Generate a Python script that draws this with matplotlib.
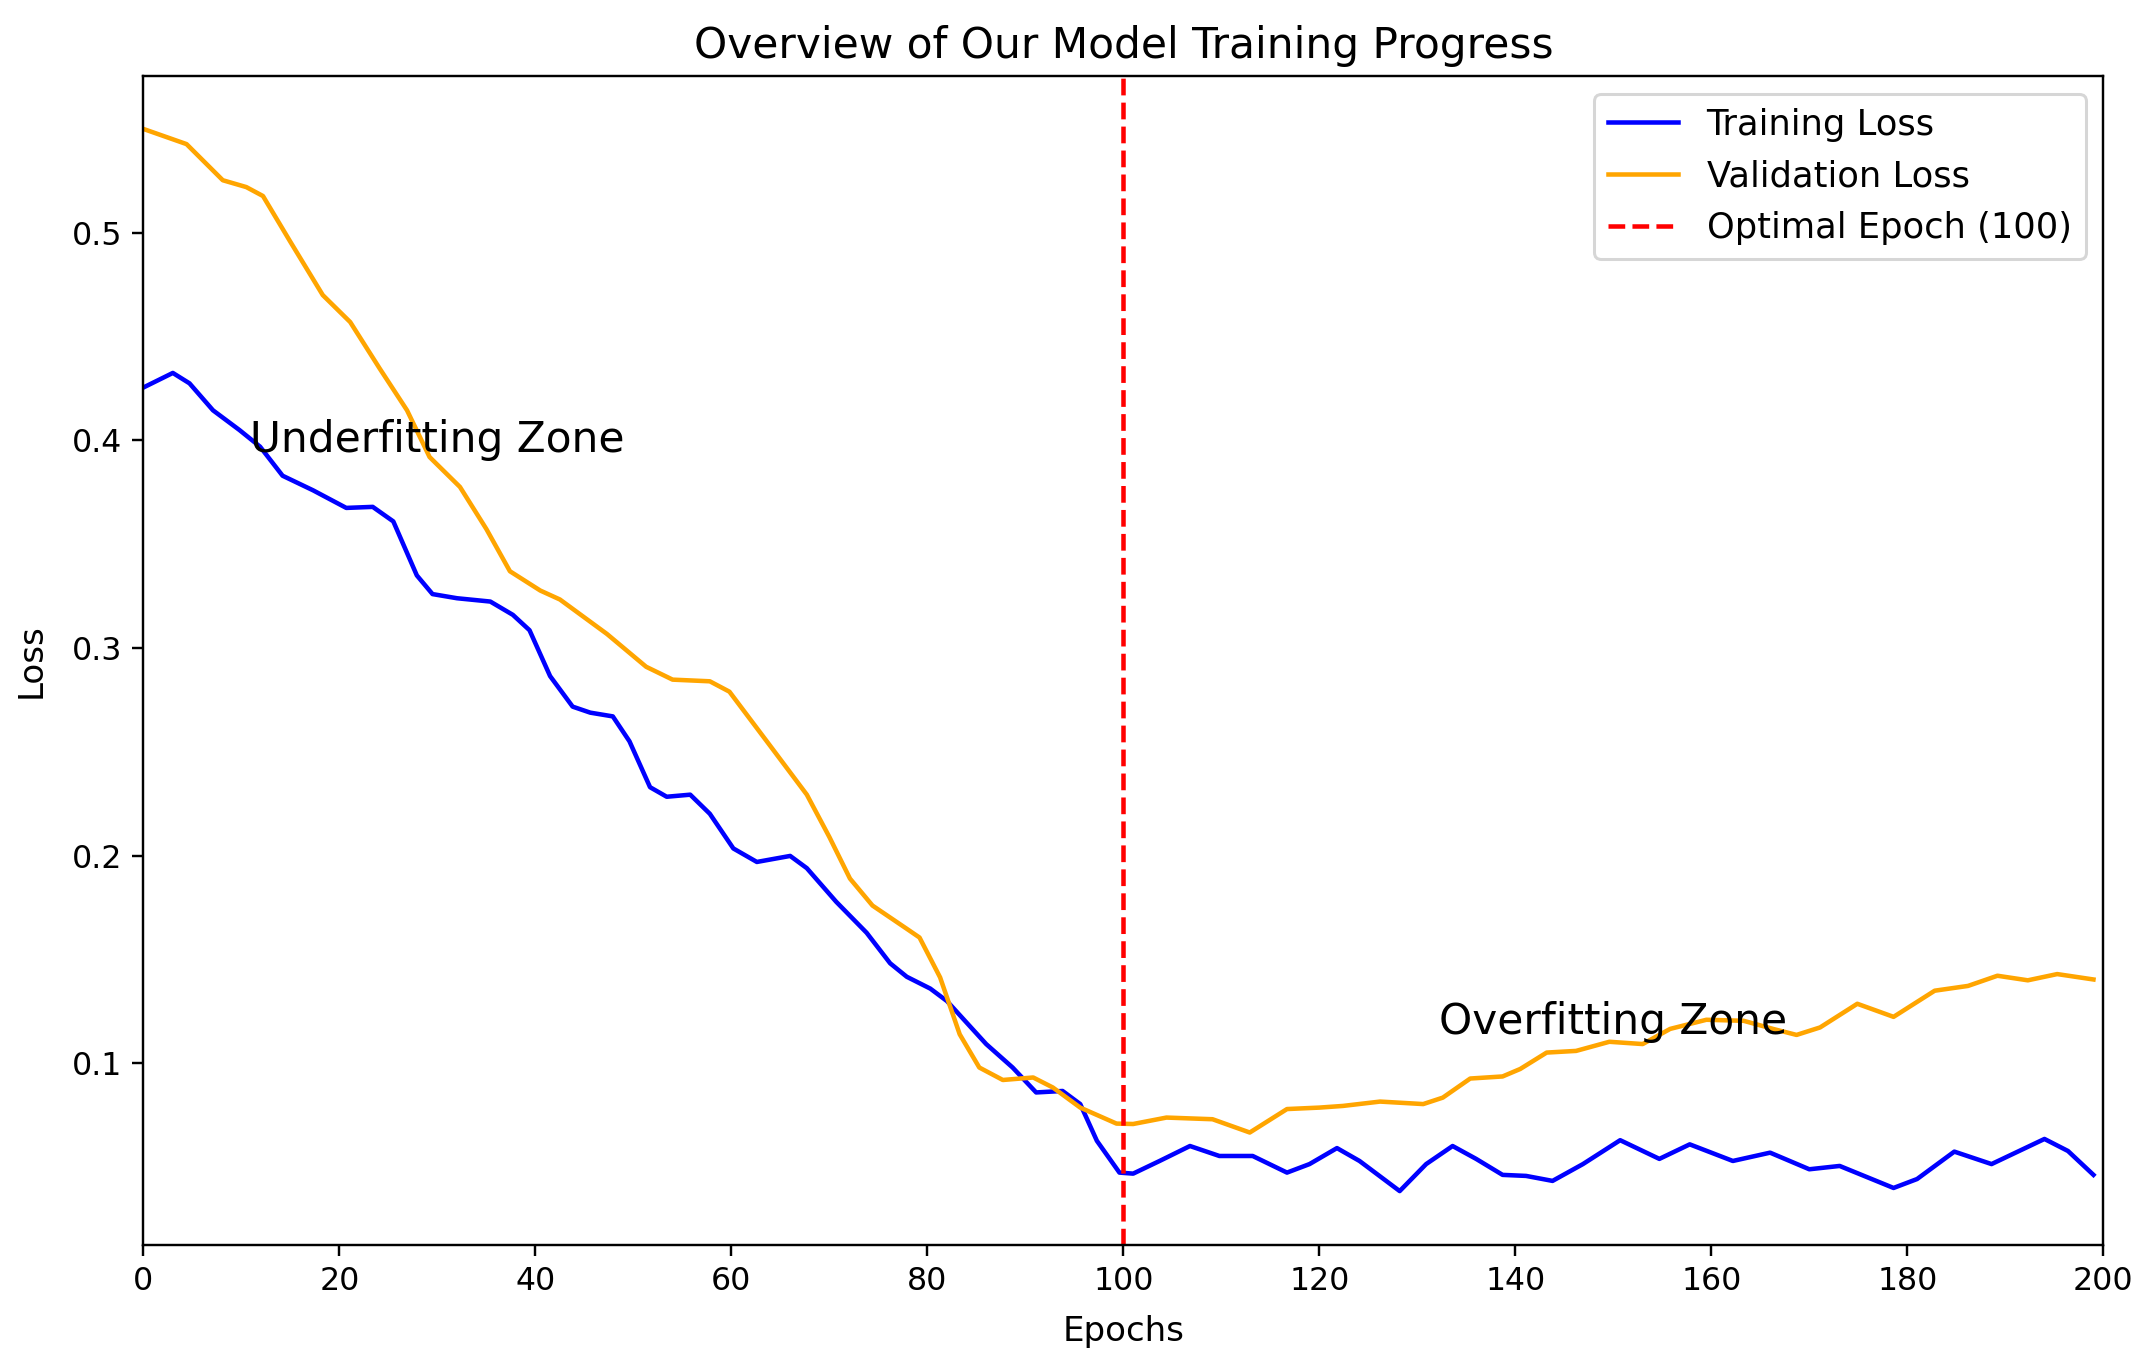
import numpy as np
import matplotlib
matplotlib.use("Agg")
import matplotlib.pyplot as plt

# values
train_epochs = [0, 3, 4.7, 7.1, 9.8, 11.9, 14.2, 17.3, 20.7, 23.4, 25.5, 27.9, 29.5, 32, 35.4,
                37.7, 39.4, 41.5, 43.8, 45.6, 47.9, 49.6, 51.7, 53.4, 55.8, 57.8, 60.2, 62.6,
                66, 67.7, 70.7, 73.8, 76.2, 77.9, 80.3, 82, 86, 88.7, 91.1, 93.8, 95.6, 97.3,
                99.6, 101, 103.7, 106.8, 109.8, 113.2, 116.7, 119, 121.8, 124.1, 128.2, 130.9,
                133.6, 136, 138.7, 141.1, 143.8, 146.9, 150.7, 154.7, 157.8, 162.2, 166, 170,
                173.1, 178.6, 181, 184.8, 188.6, 194, 196.4, 199]
train_loss = [0.4255, 0.4325, 0.4275, 0.4145, 0.405, 0.397, 0.383, 0.376, 0.3675, 0.368, 0.361,
              0.335, 0.326, 0.324, 0.3224, 0.316, 0.3086, 0.2865, 0.2718, 0.2689, 0.2671, 0.2551,
              0.233, 0.2284, 0.2294, 0.2202, 0.2035, 0.197, 0.1999, 0.194, 0.1778, 0.1629, 0.1482,
              0.1417, 0.136, 0.130, 0.1093, 0.098, 0.086, 0.0867, 0.0804, 0.0627, 0.0474, 0.0469,
              0.053, 0.0602, 0.0554, 0.0554, 0.0474, 0.0515, 0.0592, 0.053, 0.0385, 0.0515,
              0.0602, 0.054, 0.0463, 0.0458, 0.0434, 0.0515, 0.063, 0.054, 0.061, 0.053, 0.057,
              0.049, 0.0506, 0.040, 0.0443, 0.0575, 0.0515, 0.0636, 0.0578, 0.0463]

val_epochs = [0, 4.4, 8.1, 10.5, 12.2, 15, 18.3, 21.1, 24.1, 26.9, 29.2, 32.3, 35, 37.4, 40.5,
              42.5, 47.3, 51.3, 54, 57.8, 59.8, 63.9, 67.7, 70, 72.1, 74.4, 77.9, 79.2, 81.3,
              83.3, 85.3, 87.7, 90.8, 92.8, 95.6, 99.3, 101, 104.4, 109.1, 112.9, 116.7, 120,
              122.4, 126.2, 130.6, 132.6, 135.4, 138.7, 140.5, 143.2, 146.2, 149.6, 153, 155.8,
              159.5, 163.3, 166.3, 168.7, 171.1, 174.9, 178.6, 182.8, 186.2, 189.2, 192.3,
              195.3, 199]
val_loss = [0.550, 0.5427, 0.5253, 0.522, 0.5177, 0.4956, 0.470, 0.457, 0.4347, 0.4145, 0.392,
            0.3776, 0.3573, 0.337, 0.3277, 0.3234, 0.3068, 0.291, 0.2848, 0.284, 0.279, 0.2533,
            0.2294, 0.209, 0.189, 0.176, 0.1648, 0.1606, 0.1414, 0.114, 0.098, 0.092, 0.0932,
            0.0884, 0.0787, 0.071, 0.0708, 0.0739, 0.0731, 0.0667, 0.078, 0.0787, 0.0795, 0.0816,
            0.0804, 0.0835, 0.0927, 0.0937, 0.0973, 0.1052, 0.106, 0.1104, 0.1093, 0.1166,
            0.121, 0.1205, 0.1166, 0.1137, 0.1173, 0.1287, 0.1224, 0.135, 0.1373, 0.1422,
            0.140, 0.143, 0.1404]

x_ticks = [0, 20, 40, 60, 80, 100, 120, 140, 160, 180, 200]
optimal_epoch = 100

fig = plt.figure(figsize=(2144 / 217, 1367 / 217), dpi=217)
ax = fig.add_axes([0.0669, 0.0892, 0.9141, 0.8552])

ax.plot(train_epochs, train_loss, color="blue", label="Training Loss")
ax.plot(val_epochs, val_loss, color="orange", label="Validation Loss")
ax.axvline(optimal_epoch, color="red", linestyle="--", label=f"Optimal Epoch ({optimal_epoch})")

ax.text(30, 0.4, "Underfitting Zone", fontsize=14, ha="center", va="center")
ax.text(150, 0.12, "Overfitting Zone", fontsize=14, ha="center", va="center")

ax.set_xlim(0, 200)
ax.set_ylim(0.0125, 0.5755)
ax.set_xticks(x_ticks)
ax.tick_params(labelsize=10.5)
ax.set_title("Overview of Our Model Training Progress", fontsize=14)
ax.set_xlabel("Epochs", fontsize=11.3, labelpad=6)
ax.set_ylabel("Loss", fontsize=11.3, labelpad=8)
ax.legend(loc="upper right", fontsize=11.7)

fig.savefig("out.png", dpi=217)
